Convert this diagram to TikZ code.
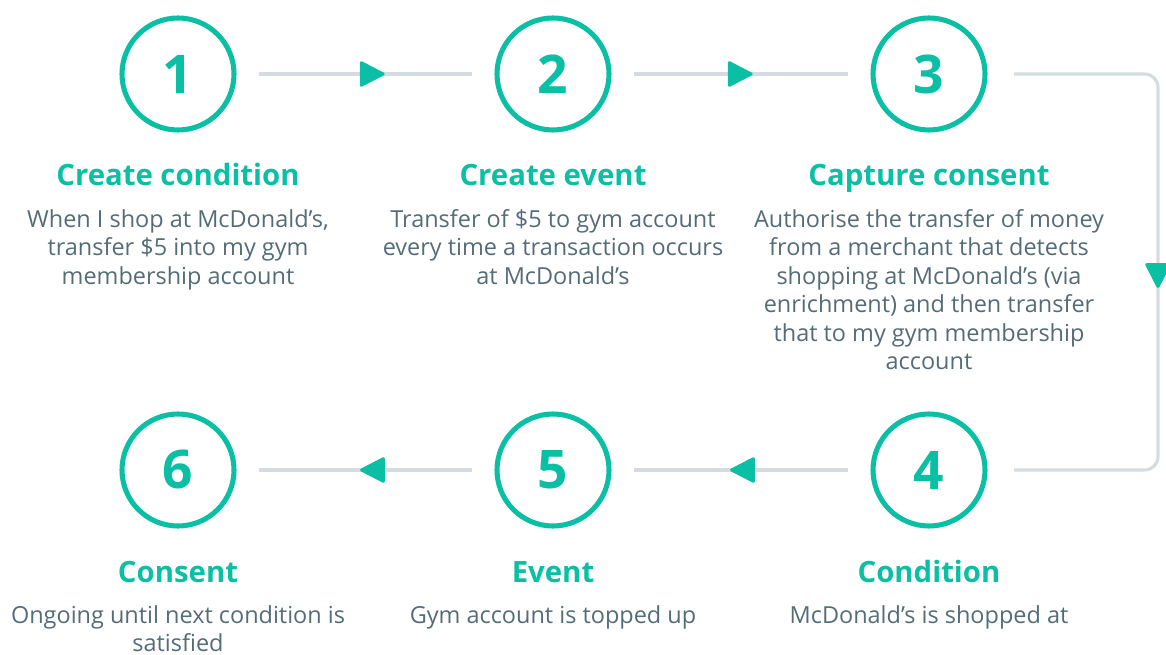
\documentclass[tikz,border=0pt]{standalone}
\usepackage{fontspec}
\setmainfont{Open Sans}
\usetikzlibrary{arrows.meta,decorations.markings}
\definecolor{teal}{RGB}{10,191,163}
\definecolor{txt}{RGB}{84,108,120}
\definecolor{ln}{RGB}{212,220,225}
\tikzset{
  stepcircle/.style={circle,draw=teal,line width=3.8pt,minimum size=84pt,inner sep=0pt,
    text=teal,font=\fontsize{40}{40}\selectfont\bfseries},
  heading/.style={anchor=base,inner sep=0pt,text=teal,font=\fontsize{22}{24}\selectfont\bfseries},
  body/.style={anchor=north,inner sep=0pt,align=center,text=txt,font=\fontsize{17.6}{21.4}\selectfont},
  conn/.style={draw=ln,line width=2.3pt,shorten <=17pt,shorten >=17pt},
  midarrow/.style={postaction={decorate},decoration={markings,
    mark=at position #1 with {\arrow[teal]{Triangle[length=20pt,width=20pt,round]}}}},
}
\begin{document}
\begin{tikzpicture}[x=0.75pt,y=-0.75pt]
\useasboundingbox (0,0) rectangle (1166,655);
% circles
\node[stepcircle] (c1) at (178,74) {1};
\node[stepcircle] (c2) at (553,74) {2};
\node[stepcircle] (c3) at (929,74) {3};
\node[stepcircle] (c4) at (929,470) {4};
\node[stepcircle] (c5) at (553,470) {5};
\node[stepcircle] (c6) at (178,470) {6};
% headings
\node[heading] (h1) at (178,186) {Create condition};
\node[heading] (h2) at (553,186) {Create event};
\node[heading] (h3) at (929,186) {Capture consent};
\node[heading] (h4) at (929,582) {Condition};
\node[heading] (h5) at (553,582) {Event};
\node[heading] (h6) at (178,582) {Consent};
% bodies
\node[body] (b1) at (178,209) {When I shop at McDonald’s,\\transfer \$5 into my gym\\membership account};
\node[body] (b2) at (553,209) {Transfer of \$5 to gym account\\every time a transaction occurs\\at McDonald’s};
\node[body] (b3) at (929,209) {Authorise the transfer of money\\from a merchant that detects\\shopping at McDonald’s (via\\enrichment) and then transfer\\that to my gym membership\\account};
\node[body] (b4) at (929,605) {McDonald’s is shopped at};
\node[body] (b5) at (553,605) {Gym account is topped up};
\node[body] (b6) at (178,605) {Ongoing until next condition is\\satisfied};
% connectors
\draw[conn,midarrow=0.574] (c1) -- (c2);
\draw[conn,midarrow=0.545] (c2) -- (c3);
\draw[conn,midarrow=0.521] (c5) -- (c6);
\draw[conn,midarrow=0.542] (c4) -- (c5);
\coordinate (r1) at (1158,74);
\coordinate (r2) at (1158,470);
\draw[draw=ln,line width=2.3pt,rounded corners=10pt,shorten <=20pt,shorten >=20pt,
  postaction={decorate},decoration={markings,
    mark=at position 284pt with {\arrow[teal]{Triangle[length=20pt,width=20pt,round]}}}]
  (c3.east) -- (r1) -- (r2) -- (c4.east);
\end{tikzpicture}
\end{document}
